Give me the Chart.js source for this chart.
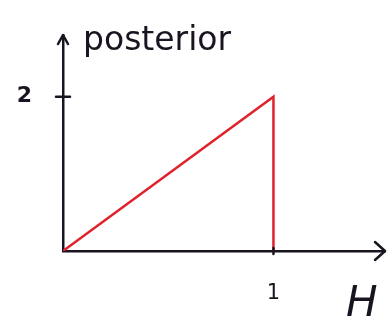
<!DOCTYPE html>
<html>
<head>
<meta charset="utf-8">
<script src="https://cdn.jsdelivr.net/npm/chart.js@4"></script>
<style>
  html, body { margin: 0; padding: 0; background: #fff; }
  canvas { display: block; }
</style>
</head>
<body>
<canvas id="c" width="388" height="320"></canvas>
<script>
// Posterior density of H after one head: p(H) = 2H on [0, 1]
const hValues = [0, 1, 1];
const posteriorValues = [0, 2, 0];
const xTickValues = [1];
const yTickValues = [2];
const xAxisLabel = 'H';
const yAxisLabel = 'posterior';

const ink = '#1a1420';
const red = '#e0222c';

const points = hValues.map((h, i) => ({ x: h, y: posteriorValues[i] }));

// Tick crosses, arrow heads and axis names
const sketchAxes = {
  id: 'sketchAxes',
  afterDraw(chart) {
    const { ctx, chartArea: a, scales: { x, y } } = chart;
    ctx.save();
    ctx.strokeStyle = ink;
    ctx.fillStyle = ink;
    ctx.lineWidth = 2.5;
    ctx.lineCap = 'round';
    ctx.lineJoin = 'round';
    const x0 = x.getPixelForValue(0);
    const y0 = y.getPixelForValue(0);
    // y ticks cross the axis
    yTickValues.forEach(v => {
      const py = y.getPixelForValue(v);
      ctx.beginPath();
      ctx.moveTo(x0 - 7, py);
      ctx.lineTo(x0 + 7, py);
      ctx.stroke();
    });
    // x ticks
    xTickValues.forEach(v => {
      const px = x.getPixelForValue(v);
      ctx.beginPath();
      ctx.moveTo(px, y0 - 3);
      ctx.lineTo(px, y0 + 3);
      ctx.stroke();
    });
    // y arrow
    ctx.beginPath();
    ctx.moveTo(x0 - 5, a.top + 9);
    ctx.lineTo(x0, a.top);
    ctx.lineTo(x0 + 5, a.top + 9);
    ctx.stroke();
    // x arrow
    ctx.beginPath();
    ctx.moveTo(a.right - 10, y0 - 9);
    ctx.lineTo(a.right, y0);
    ctx.lineTo(a.right - 10, y0 + 9);
    ctx.stroke();
    // axis names
    ctx.textBaseline = 'alphabetic';
    ctx.textAlign = 'left';
    ctx.font = '33px "DejaVu Sans", sans-serif';
    ctx.fillText(yAxisLabel, x0 + 20, 50);
    ctx.font = 'italic 42px "DejaVu Sans", sans-serif';
    ctx.fillText(xAxisLabel, 346, 316);
    ctx.restore();
  }
};

new Chart(document.getElementById('c'), {
  type: 'scatter',
  data: {
    datasets: [{
      data: points,
      showLine: true,
      borderColor: red,
      borderWidth: 2.5,
      pointRadius: 0,
      tension: 0
    }]
  },
  options: {
    responsive: false,
    animation: false,
    devicePixelRatio: 1,
    layout: { padding: { top: 35, right: 3, left: 0, bottom: 0 } },
    plugins: { legend: { display: false }, tooltip: { enabled: false } },
    scales: {
      x: {
        type: 'linear',
        min: 0,
        max: 1.53,
        grid: { display: false, drawTicks: false },
        border: { display: true, color: ink, width: 2.5 },
        afterBuildTicks: s => { s.ticks = xTickValues.map(v => ({ value: v })); },
        afterFit: s => { s.height = 69; s.paddingLeft = 0; s.paddingRight = 0; },
        ticks: {
          color: ink,
          padding: 30,
          font: { family: '"DejaVu Sans", sans-serif', size: 21 },
          callback: v => String(v)
        }
      },
      y: {
        type: 'linear',
        min: 0,
        max: 2.8,
        grid: { display: false, drawTicks: false },
        border: { display: true, color: ink, width: 2.5 },
        afterBuildTicks: s => { s.ticks = yTickValues.map(v => ({ value: v })); },
        afterFit: s => { s.width = 63; s.paddingTop = 0; s.paddingBottom = 0; },
        ticks: {
          color: ink,
          padding: 31,
          font: { family: '"DejaVu Sans", sans-serif', size: 22, weight: 'bold' },
          callback: v => String(v)
        }
      }
    }
  },
  plugins: [sketchAxes]
});
</script>
</body>
</html>
